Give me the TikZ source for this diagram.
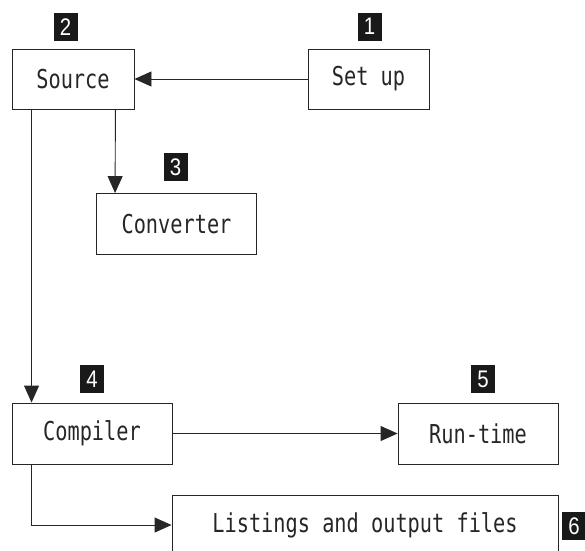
\documentclass[tikz,border=0pt]{standalone}
\usepackage{fontspec}
\usetikzlibrary{arrows.meta}
\newfontfamily\boxfont{DejaVu Sans Mono}[FakeStretch=0.78]
\newfontfamily\badgefont{Liberation Sans}[FakeStretch=0.85]
\tikzset{
  stage/.style={draw=black!85, line width=0.9pt, rectangle, inner sep=0pt,
    text=black!85, font=\boxfont\fontsize{26}{28}\selectfont},
  badge/.style={fill=black!90, text=white, rectangle, inner sep=0pt,
    minimum width=24pt, minimum height=28pt,
    font=\badgefont\fontsize{24}{25}\selectfont},
  flow/.style={line width=0.9pt, draw=black!85,
    -{Triangle[length=17pt,width=15pt]}},
}
\begin{document}
\begin{tikzpicture}[x=1pt,y=-1pt]
\path[use as bounding box, clip] (0,0) rectangle (585,550);
\fill[white] (0,0) rectangle (585,550);

% stages
\node[stage, minimum width=122pt, minimum height=60pt] (src) at (73,79) {Source};
\node[stage, minimum width=121pt, minimum height=60pt] (setup) at (368.5,79) {Set up};
\node[stage, minimum width=160pt, minimum height=61pt] (conv) at (176.5,224) {Converter};
\node[stage, minimum width=160pt, minimum height=61pt] (cmp) at (92,433.5) {Compiler};
\node[stage, minimum width=160pt, minimum height=61pt] (run) at (478,433.5) {Run-time};
\node[stage, minimum width=386pt, minimum height=60pt] (lst) at (365,525) {Listings and output files};

% step numbers
\node[badge] (b1) at (369.5,26.5) {1};
\node[badge] (b2) at (65.5,27) {2};
\node[badge] (b3) at (175.5,167) {3};
\node[badge] (b4) at (92,379) {4};
\node[badge] (b5) at (483,379) {5};
\node[badge] (b6) at (574,526) {6};

% flow between stages
\draw[flow] (setup.west) -- (src.east);
\draw[flow] ([xshift=-19pt]src.south east) -- ([xshift=19pt]conv.north west);
\draw[flow] ([xshift=20pt]src.south west) -- ([xshift=20pt]cmp.north west);
\draw[flow] (cmp.east) -- (run.west);
\draw[flow] ([xshift=20pt]cmp.south west) |- (lst.west);
\end{tikzpicture}
\end{document}
